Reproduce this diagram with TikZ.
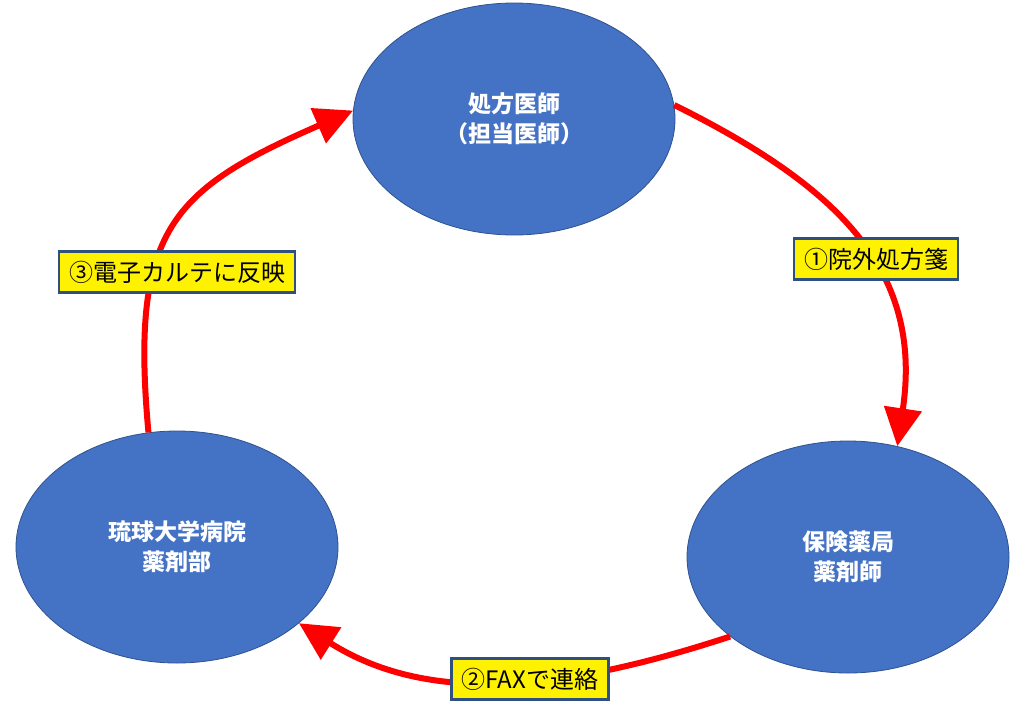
\documentclass[tikz,border=0pt]{standalone}
\usepackage{fontspec}
\setmainfont{Noto Sans CJK JP}
\usetikzlibrary{shapes.geometric,arrows.meta}
\definecolor{ellblue}{HTML}{4472C4}
\definecolor{ellborder}{HTML}{2F528F}
\definecolor{lblborder}{HTML}{2F4F7F}
\tikzset{
  party/.style={ellipse, draw=ellborder, line width=0.8pt, fill=ellblue,
    minimum width=322pt, minimum height=232pt, inner sep=0pt,
    text=white, align=center, font=\bfseries\fontsize{23}{30}\selectfont},
  flowarc/.style={draw=red, line width=6pt,
    -{Triangle[length=38pt,width=37pt]}},
  steplabel/.style={rectangle, draw=lblborder, line width=2.8pt, fill=yellow,
    text=black, inner xsep=10pt, minimum height=41pt, inner ysep=0pt,
    font=\fontsize{24}{27}\selectfont}
}
\begin{document}
\begin{tikzpicture}[x=1pt,y=-1pt]
\useasboundingbox (0,0) rectangle (1024,704);
\fill[white] (0,0) rectangle (1024,704);

\node[party] (top) at (514,119) {処方医師\\（担当医師）};
\node[party] (br) at (848,557) {保険薬局\\薬剤師};
\node[party] (bl) at (177,547) {琉球大学病院\\薬剤部};

\draw[flowarc] (top.5.7) .. controls (833,184) and (924,267) .. (br.66);
\draw[flowarc] (br.214) .. controls (573,688) and (433,708) .. (bl.-32);
\draw[flowarc] (bl.104) .. controls (130,230) and (171,190) .. (top.177);

\node[steplabel] (l1) at (876,259) {①院外処方箋};
\node[steplabel] (l2) at (530,679) {②FAXで連絡};
\node[steplabel] (l3) at (177,272) {③電子カルテに反映};
\end{tikzpicture}
\end{document}
